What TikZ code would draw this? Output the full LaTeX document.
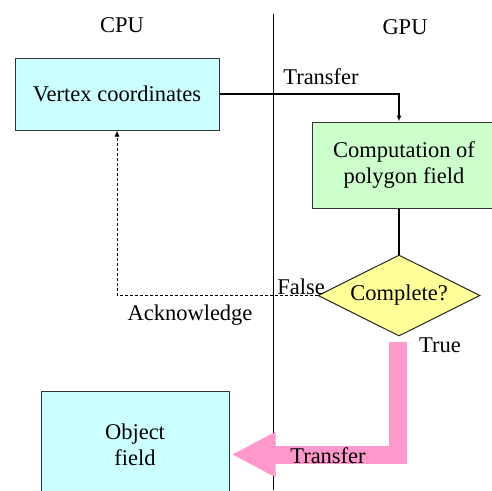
\documentclass[tikz,border=0pt]{standalone}
\usepackage{fontspec}
\setmainfont{Liberation Serif}
\usetikzlibrary{arrows.meta,shapes.geometric}

\definecolor{cpufill}{HTML}{CCFFFF}
\definecolor{gpufill}{HTML}{CCFFCC}
\definecolor{testfill}{HTML}{FFFF99}
\definecolor{resultpink}{HTML}{FF99CC}

\begin{document}
\begin{tikzpicture}[
    x=1pt, y=-1pt,
    font=\rmfamily\fontsize{22.5}{26}\selectfont,
    box/.style={draw=black!80, line width=1pt, align=center, inner sep=0pt},
    decision/.style={diamond, aspect=2, draw=black!85, fill=testfill, line width=1pt, inner sep=0pt, minimum width=162pt, minimum height=81pt},
    tag/.style={inner sep=0pt},
    arrow/.style={-{Latex[length=6pt, width=5pt]}, line width=1.3pt},
    back/.style={-{Latex[length=6pt, width=5pt]}, line width=1pt, dash pattern=on 3pt off 2pt},
    result/.style={draw=resultpink, line width=18pt, line join=miter, -{Triangle[length=44pt, width=42pt]}}
]
\useasboundingbox (0,0) rectangle (492,490);
\clip (0,0) rectangle (492,490);

% CPU / GPU columns
\node[tag] (cpu) at (122,25) {CPU};
\node[tag] (gpu) at (405,27) {GPU};
\coordinate (divtop) at (273,14);
\coordinate (divbot) at (273,490);
\draw[line width=0.8pt] (divtop) -- (divbot);

\node[box, fill=cpufill, minimum width=204pt, minimum height=72pt] (vertex) at (117,94) {Vertex coordinates};
\node[box, fill=gpufill, minimum width=184pt, minimum height=86pt] (comp) at (404,165) {Computation of\\polygon field};
\node[decision] (check) at (399,295.5) {Complete?};
\node[box, fill=cpufill, minimum width=188pt, minimum height=108pt] (object) at (135,445) {Object\\field};

\draw[arrow] (vertex.east) -| (comp.north -| check.north);
\draw[line width=1.3pt] (comp.south -| check.north) -- (check.north);
\draw[back] (check.west) -| (vertex.south);

% result goes back to the CPU
\coordinate (truestart) at ([xshift=-1.5pt, yshift=-5pt]check.south);
\coordinate (tip) at ([xshift=2pt, yshift=-9.5pt]object.east);
\draw[result] (truestart) |- (tip);

\node[tag] (sendlbl) at (321,77) {Transfer};
\node[tag] (falselbl) at (301,287) {False};
\node[tag] (acklbl) at (190,315) {Acknowledge};
\node[tag] (truelbl) at (440,345) {True};
\node[tag] (backlbl) at (328,456) {Transfer};
\end{tikzpicture}
\end{document}
